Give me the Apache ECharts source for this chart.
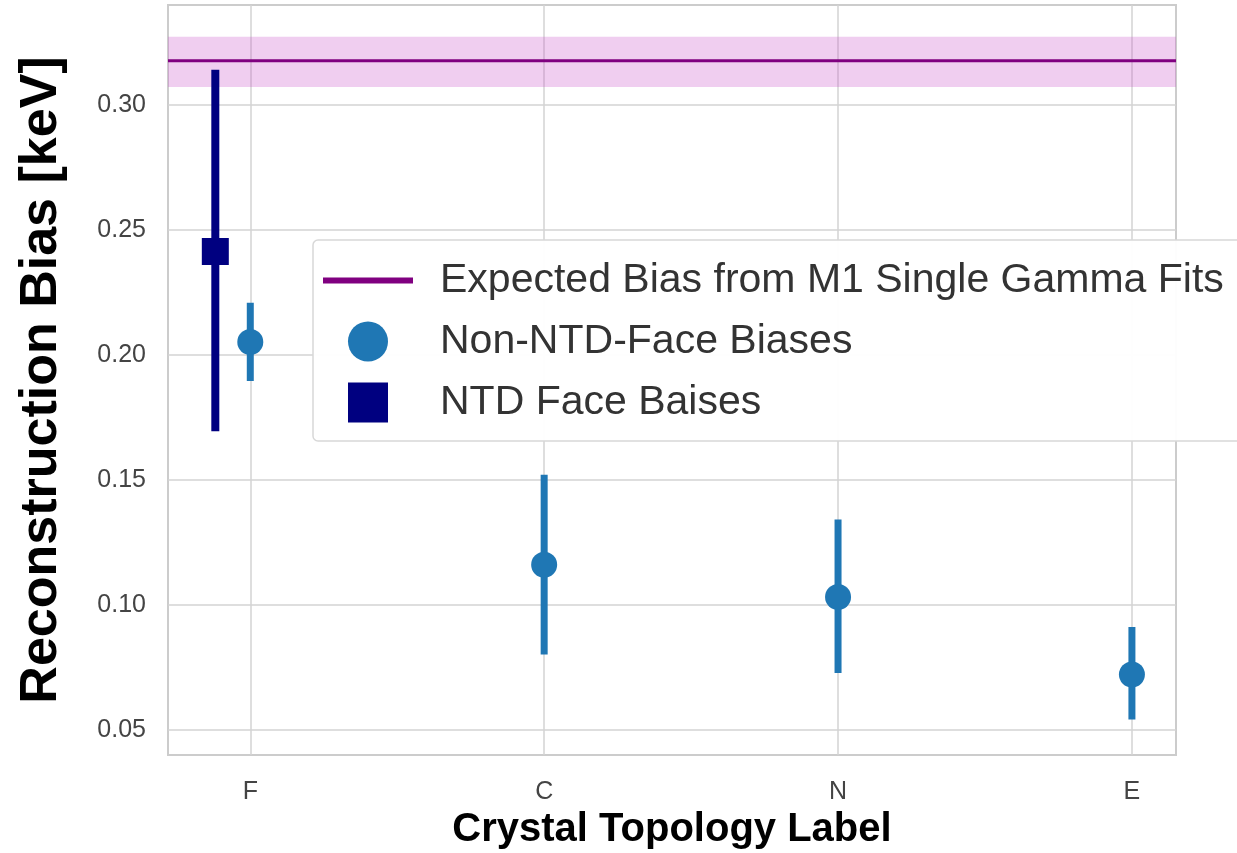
<!DOCTYPE html>
<html>
<head>
<meta charset="utf-8">
<script src="https://cdn.jsdelivr.net/npm/echarts@6/dist/echarts.min.js"></script>
<style>
  html, body { margin: 0; padding: 0; background: #fff; }
  #chart { width: 1237px; height: 853px; }
</style>
</head>
<body>
<div id="chart"></div>
<script>
// categories on the x axis (placed at 0,1,2,3)
var categories = ['F', 'C', 'N', 'E'];
var yTicks = [0.05, 0.10, 0.15, 0.20, 0.25, 0.30];

// expected bias from the M1 single gamma fits and its band
var expectedBias = 0.3177;
var expectedLow = 0.3072;
var expectedHigh = 0.3273;

// non-NTD-face biases
var nonNtdPos = [0, 1, 2, 3];
var nonNtdVal = [0.2052, 0.1161, 0.1032, 0.0722];
var nonNtdLow = [0.1896, 0.0802, 0.0728, 0.0542];
var nonNtdHigh = [0.2209, 0.1521, 0.1342, 0.0912];

// NTD face biases (drawn slightly left of F)
var ntdPos = [-0.119];
var ntdVal = [0.2414];
var ntdLow = [0.1695];
var ntdHigh = [0.3141];

var xMin = -0.28, xMax = 3.15;
var blue = '#1f77b4';
var navy = '#000080';
var purple = '#800080';
var font = 'Liberation Sans';

function rows(pos, val, lo, hi) {
    var out = [];
    for (var i = 0; i < pos.length; i++) {
        out.push([pos[i], val[i], lo[i], hi[i]]);
    }
    return out;
}

function errorBar(color, width) {
    return function (params, api) {
        var x = api.value(0);
        var a = api.coord([x, api.value(2)]);
        var b = api.coord([x, api.value(3)]);
        return {
            type: 'line',
            shape: { x1: a[0], y1: a[1], x2: b[0], y2: b[1] },
            style: { stroke: color, lineWidth: width }
        };
    };
}

var myChart = echarts.init(document.getElementById('chart'));
var option = {
    animation: false,
    backgroundColor: '#ffffff',
    grid: {
        left: 168,
        right: 61,
        top: 5,
        bottom: 98,
        containLabel: false,
        outerBoundsMode: 'none',
        show: true,
        borderColor: '#cccccc',
        borderWidth: 2
    },
    xAxis: {
        type: 'value',
        min: xMin,
        max: xMax,
        name: 'Crystal Topology Label',
        nameLocation: 'middle',
        nameGap: 55,
        nameTextStyle: { fontFamily: font, fontWeight: 'bold', fontSize: 40, color: '#000' },
        axisLine: { show: false },
        axisTick: { show: false, customValues: nonNtdPos },
        axisLabel: {
            customValues: nonNtdPos,
            margin: 25,
            fontFamily: font,
            fontSize: 25,
            color: '#444',
            formatter: function (v) { return categories[Math.round(v)]; }
        },
        splitLine: { show: true, lineStyle: { color: '#d3d3d3', width: 1.5 } }
    },
    yAxis: {
        type: 'value',
        min: 0.04,
        max: 0.34,
        name: 'Reconstruction Bias [keV]',
        nameLocation: 'middle',
        nameRotate: 90,
        nameGap: 100,
        nameTextStyle: { fontFamily: font, fontWeight: 'bold', fontSize: 52, color: '#000' },
        axisLine: { show: false },
        axisTick: { show: false, customValues: yTicks },
        axisLabel: {
            customValues: yTicks,
            margin: 22,
            fontFamily: font,
            fontSize: 25,
            color: '#444',
            formatter: function (v) { return v.toFixed(2); }
        },
        splitLine: { show: true, lineStyle: { color: '#d3d3d3', width: 1.5 } }
    },
    legend: {
        orient: 'vertical',
        left: 313,
        top: 240,
        padding: [20, 40, 18, 10],
        itemGap: 20,
        itemWidth: 90,
        itemHeight: 40,
        symbolKeepAspect: true,
        backgroundColor: 'rgba(255,255,255,0.96)',
        borderColor: '#d8d8d8',
        borderWidth: 1.5,
        borderRadius: 5,
        textStyle: { fontFamily: font, fontSize: 41, color: '#333', padding: [0, 0, 0, 22] },
        data: [
            { name: 'Expected Bias from M1 Single Gamma Fits', icon: 'path://M0,0L90,0L90,6L0,6Z', itemStyle: { color: purple } },
            { name: 'Non-NTD-Face Biases', icon: 'circle' },
            { name: 'NTD Face Baises', icon: 'path://M0,0L10,0L10,10L0,10Z' }
        ]
    },
    series: [
        {
            name: 'Expected Bias from M1 Single Gamma Fits',
            type: 'line',
            symbol: 'none',
            data: [[xMin, expectedBias], [xMax, expectedBias]],
            lineStyle: { color: purple, width: 3 },
            itemStyle: { color: purple },
            markArea: {
                silent: true,
                itemStyle: { color: 'rgba(200,80,200,0.28)' },
                data: [[{ yAxis: expectedLow }, { yAxis: expectedHigh }]]
            },
            z: 3
        },
        {
            name: 'ntd-err',
            type: 'custom',
            renderItem: errorBar(navy, 8),
            encode: { x: 0, y: [2, 3] },
            data: rows(ntdPos, ntdVal, ntdLow, ntdHigh),
            z: 4
        },
        {
            name: 'nonntd-err',
            type: 'custom',
            renderItem: errorBar(blue, 7),
            encode: { x: 0, y: [2, 3] },
            data: rows(nonNtdPos, nonNtdVal, nonNtdLow, nonNtdHigh),
            z: 4
        },
        {
            name: 'Non-NTD-Face Biases',
            type: 'scatter',
            symbol: 'circle',
            symbolSize: 26,
            itemStyle: { color: blue, opacity: 1 },
            data: rows(nonNtdPos, nonNtdVal, nonNtdLow, nonNtdHigh),
            z: 5
        },
        {
            name: 'NTD Face Baises',
            type: 'scatter',
            symbol: 'rect',
            symbolSize: 27,
            itemStyle: { color: navy, opacity: 1 },
            data: rows(ntdPos, ntdVal, ntdLow, ntdHigh),
            z: 5
        }
    ]
};
myChart.setOption(option);
</script>
</body>
</html>
